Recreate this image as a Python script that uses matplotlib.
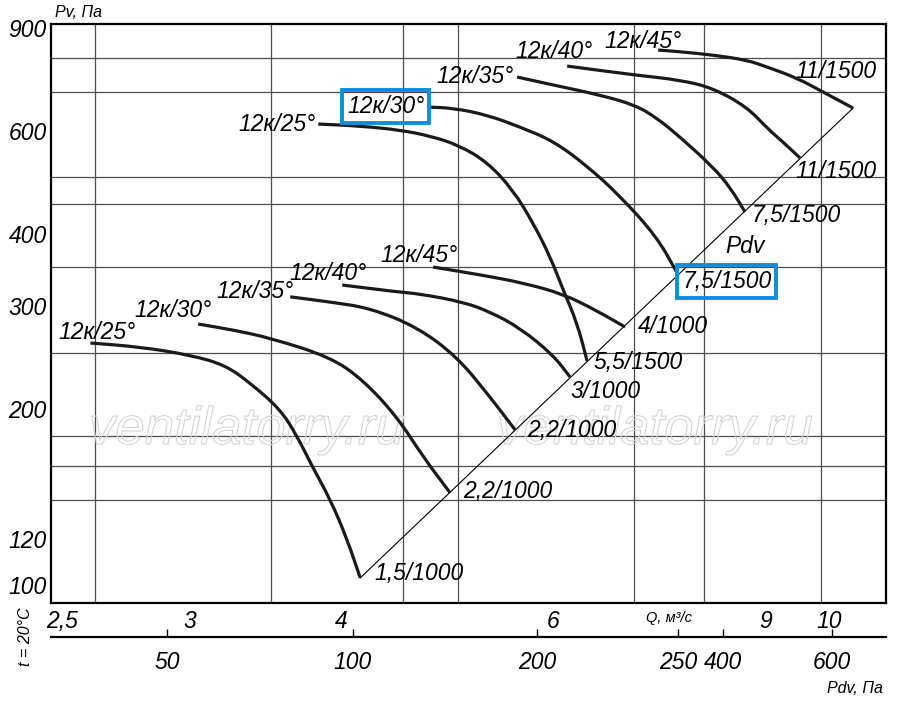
import matplotlib
matplotlib.use("Agg")
import matplotlib.pyplot as plt
import matplotlib.patheffects as pe
from matplotlib.path import Path
from matplotlib.patches import PathPatch
from matplotlib.ticker import FixedLocator, FixedFormatter, NullFormatter, NullLocator

plt.rcParams['font.family'] = ['Liberation Sans', 'DejaVu Sans']
plt.rcParams['font.style'] = 'italic'

BLUE = '#0a8fdf'

# axis ranges: Q in m3/s, Pv in Pa
q_lim = (2.30, 11.32)
p_lim = (93.1, 914.5)

q_grid = [2.5, 3, 3.5, 4, 4.5, 5, 6, 7, 8, 9, 10]
p_grid = [100, 120, 140, 160, 180, 200, 250, 300, 350, 400, 450, 500, 600, 700, 800, 900]

q_tick_pos = [2.35, 3, 4, 6, 9, 10.15]
q_tick_labels = ['2,5', '3', '4', '6', '9', '10']
p_ticks = [100, 120, 200, 300, 400, 600, 900]
p_tick_labels = ['100', '120', '200', '300', '400', '600', '900']

# Pdv scale under the chart (tick positions read in Q units)
pdv_tick_pos = [2.87, 4.09, 5.82, 7.61, 8.29, 10.21]
pdv_tick_labels = ['50', '100', '200', '250', '400', '600']

# 1000 rpm curves
q_25_1000 = [2.480, 2.727, 3.000, 3.207, 3.364, 3.562, 3.678, 3.784, 3.920, 4.046, 4.150]
p_25_1000 = [259.7, 255.7, 247.7, 238.1, 221.8, 200.0, 180.0, 160.0, 140.0, 120.0, 102.8]

q_30_1000 = [3.046, 3.257, 3.495, 3.920, 4.173, 4.453, 4.680, 4.928]
p_30_1000 = [279.9, 273.4, 264.9, 245.7, 224.4, 194.0, 165.6, 143.7]

q_35_1000 = [3.631, 3.920, 4.229, 4.627, 4.995, 5.318, 5.578]
p_35_1000 = [311.6, 305.3, 298.1, 276.6, 245.7, 209.8, 184.3]

q_40_1000 = [4.010, 4.453, 4.653, 5.051, 5.318, 5.630, 5.997, 6.194]
p_40_1000 = [326.5, 317.8, 315.2, 305.3, 293.6, 275.6, 247.7, 227.1]

q_45_1000 = [4.770, 5.288, 5.664, 6.113, 6.522, 6.880]
p_45_1000 = [350.5, 338.3, 329.1, 315.2, 294.8, 276.6]

# 1500 rpm curves
q_25_1500 = [3.831, 4.150, 4.479, 4.743, 5.004, 5.288, 5.555, 5.772, 5.964, 6.113, 6.278, 6.399]
p_25_1500 = [616.2, 611.5, 601.8, 587.8, 567.4, 530.5, 475.1, 417.1, 364.8, 320.2, 281.1, 242.0]

q_30_1500 = [4.716, 4.955, 5.288, 5.630, 6.000, 6.399, 6.813, 7.311, 7.599]
p_30_1500 = [658.9, 656.3, 638.7, 609.0, 576.4, 522.2, 464.1, 394.7, 342.3]

q_35_1500 = [5.599, 5.997, 6.560, 7.012, 7.311, 7.640, 8.135, 8.404, 8.650]
p_35_1500 = [741.8, 718.9, 691.0, 664.2, 631.0, 585.5, 520.2, 480.6, 435.5]

q_40_1500 = [6.160, 7.012, 7.640, 8.135, 8.682, 9.021, 9.317, 9.608]
p_40_1500 = [774.6, 747.6, 733.3, 710.4, 658.9, 606.5, 571.9, 538.9]

q_45_1500 = [7.328, 7.640, 8.135, 8.682, 9.021, 9.550, 10.04, 10.63]
p_45_1500 = [825.2, 819.8, 809.1, 793.2, 771.9, 739.0, 699.2, 656.3]

# dynamic pressure line
q_pdv = [4.150, 10.63]
p_pdv = [102.8, 656.3]

# curve, angle label (offset px, ha), motor label (offset px), boxed flags
curves = [
    (q_25_1000, p_25_1000, '12к/25°', (7, 4), 'center', '1,5/1000', (14, -2), False, False),
    (q_30_1000, p_30_1000, '12к/30°', (-25, 7), 'center', '2,2/1000', (13, -5), False, False),
    (q_35_1000, p_35_1000, '12к/35°', (-35, -1), 'center', '2,2/1000', (12, -7), False, False),
    (q_40_1000, p_40_1000, '12к/40°', (-14, 5), 'center', '3/1000', (0, -21), False, False),
    (q_45_1000, p_45_1000, '12к/45°', (-14, 5), 'center', '4/1000', (13, -6), False, False),
    (q_25_1500, p_25_1500, '12к/25°', (-3, -7), 'right', '5,5/1500', (6, -8), False, False),
    (q_30_1500, p_30_1500, '12к/30°', (-3, -6), 'right', '7,5/1500', (5, -15), True, True),
    (q_35_1500, p_35_1500, '12к/35°', (-3, -6), 'right', '7,5/1500', (7, -10), False, False),
    (q_40_1500, p_40_1500, '12к/40°', (-13, 8), 'center', '11/1500', (-5, -20), False, False),
    (q_45_1500, p_45_1500, '12к/45°', (-15, 2), 'center', '11/1500', (-58, 30), False, False),
]

fig = plt.figure(figsize=(9, 7.07), dpi=100)
ax = fig.add_axes([51 / 900, 1 - 603 / 707, 835 / 900, 579 / 707])
ax.set_xscale('log')
ax.set_yscale('log')
ax.set_xlim(q_lim)
ax.set_ylim(p_lim)

ax.xaxis.set_major_locator(FixedLocator(q_tick_pos))
ax.xaxis.set_major_formatter(FixedFormatter(q_tick_labels))
ax.xaxis.set_minor_locator(FixedLocator(q_grid))
ax.xaxis.set_minor_formatter(NullFormatter())
ax.yaxis.set_major_locator(FixedLocator(p_ticks))
ax.yaxis.set_major_formatter(FixedFormatter(p_tick_labels))
ax.yaxis.set_minor_locator(FixedLocator(p_grid))
ax.yaxis.set_minor_formatter(NullFormatter())

ax.grid(which='minor', color='#4d4d4d', lw=0.9)
ax.grid(which='major', visible=False)
ax.tick_params(which='both', length=0, labelsize=16.5)
ax.tick_params(axis='x', pad=5)
ax.tick_params(axis='y', pad=3)
for s in ax.spines.values():
    s.set_linewidth(1.6)
ax.set_axisbelow(True)

ax.plot(q_pdv, p_pdv, color='black', lw=0.8, zorder=3)


def smooth_curve(q, p):
    # quadratic bezier through the midpoints (midpoints taken in log space)
    verts = [(q[0], p[0])]
    codes = [Path.MOVETO]
    mids = [((q[i] * q[i + 1]) ** 0.5, (p[i] * p[i + 1]) ** 0.5) for i in range(len(q) - 1)]
    verts.append(mids[0])
    codes.append(Path.LINETO)
    for i in range(1, len(q) - 1):
        verts += [(q[i], p[i]), mids[i]]
        codes += [Path.CURVE3, Path.CURVE3]
    verts.append((q[-1], p[-1]))
    codes.append(Path.LINETO)
    return Path(verts, codes)


def put_label(x, y, text, off, ha, boxed):
    kw = {}
    if boxed:
        kw['bbox'] = dict(boxstyle='square,pad=0.22', fc='none', ec=BLUE, lw=2.8)
    ax.annotate(text, (x, y), xytext=off, textcoords='offset pixels',
                ha=ha, va='baseline', fontsize=16.5, zorder=5, **kw)


for q, p, ang, ang_off, ang_ha, mot, mot_off, box1, box2 in curves:
    ax.add_patch(PathPatch(smooth_curve(q, p), fill=False, ec='#1a1a1a',
                           lw=2.3, zorder=4, capstyle='butt'))
    put_label(q[0], p[0], ang, ang_off, ang_ha, box1)
    put_label(q[-1], p[-1], mot, mot_off, 'left', box2)

ax.text(0.807, 0.6045, 'Pdv', transform=ax.transAxes, fontsize=16.5,
        ha='left', va='baseline')

# watermark
for wx in (247, 655):
    ax.text(wx / 900, 1 - 430 / 707, 'ventilatorry.ru', transform=fig.transFigure,
            ha='center', va='center', fontsize=38, color='none', zorder=2,
            path_effects=[pe.Stroke(linewidth=0.8, foreground='#d4d4d4')])

# Pdv scale
sec = ax.secondary_xaxis(-34 / 579)
sec.set_ticks(pdv_tick_pos, labels=pdv_tick_labels)
sec.xaxis.set_minor_locator(NullLocator())
sec.tick_params(direction='in', length=6, width=1, pad=10, labelsize=16.5)
sec.spines['bottom'].set_linewidth(1.6)

fig.text(55 / 900, 1 - 17 / 707, 'Pv, Па', fontsize=11.5, va='baseline')
fig.text(669 / 900, 1 - 618 / 707, 'Q, м³/с', fontsize=10.5, ha='center', va='center')
fig.text(883 / 900, 1 - 693 / 707, 'Pdv, Па', fontsize=11.5, ha='right', va='baseline')
fig.text(26 / 900, 1 - 637 / 707, 't = 20°C', fontsize=11.5, rotation=90,
         ha='center', va='center')

fig.savefig('out.png', dpi=100)
